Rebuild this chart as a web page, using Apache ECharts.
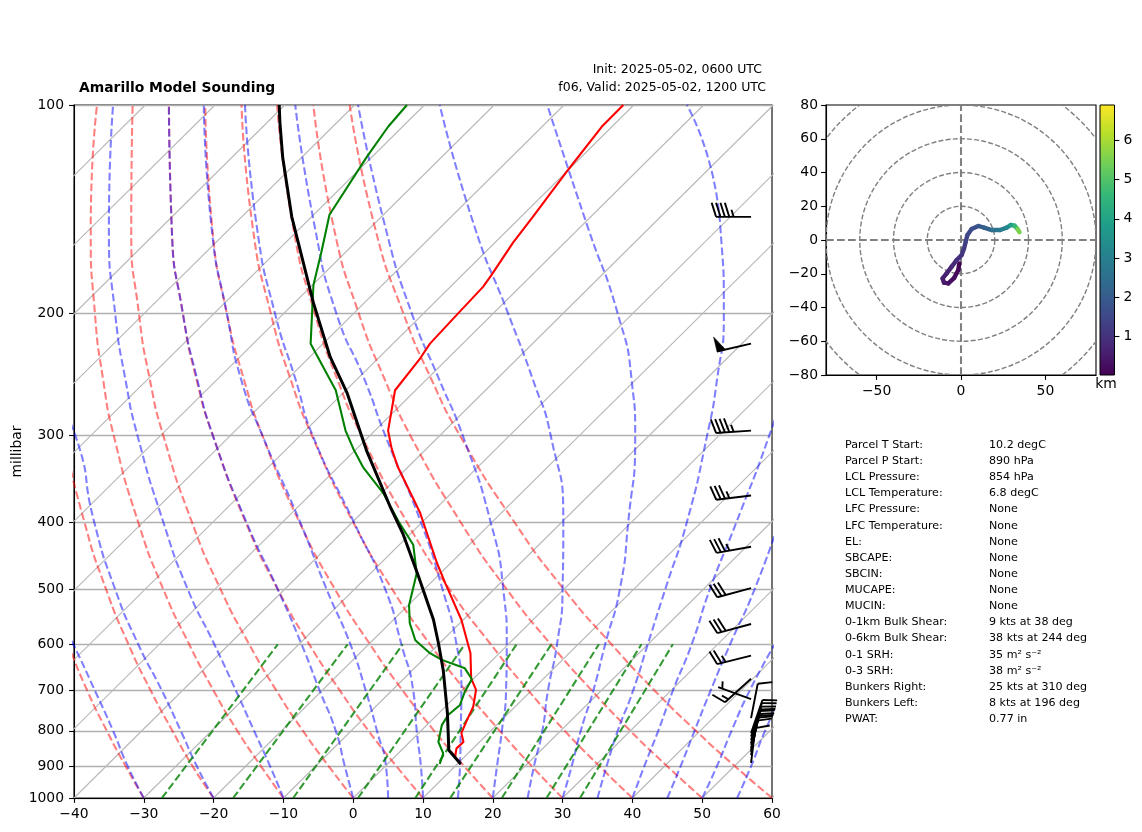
<!DOCTYPE html>
<html>
<head>
<meta charset="utf-8">
<title>Amarillo Model Sounding</title>
<script src="https://cdn.jsdelivr.net/npm/echarts@6/dist/echarts.min.js"></script>
<style>
  html, body { margin: 0; padding: 0; background: #fff; }
  #main { width: 1142px; height: 832px; }
</style>
</head>
<body>
<div id="main"></div>
<script>
var FONT = '"DejaVu Sans", sans-serif';

// all profile values (skewed) at a given pressure
var pressureTicks = [100, 200, 300, 400, 500, 600, 700, 800, 900, 1000];

var tempP = [100, 107.5, 124, 145.6, 158, 176, 183, 201, 221, 232, 258, 295, 313, 333, 388, 458, 490, 553, 618, 672, 698, 738, 772, 806, 830, 848, 872, 893];
var tempX = [38.7, 35.6, 30.8, 25.6, 22.9, 19.8, 18.6, 14.8, 11, 9.6, 6, 5, 5.5, 6.4, 9.6, 12, 13.2, 15.5, 16.8, 16.9, 17.6, 17.2, 16.3, 15.5, 15.8, 14.8, 14.6, 15.4];

var dewP = [100, 107.5, 119, 144, 162, 182, 221, 258, 295, 313, 333, 363, 399, 431, 474, 527, 559, 592, 618, 632, 650, 674, 702, 734, 759, 785, 830, 862, 893];
var dewX = [7.7, 5, 1.9, -3.4, -4.5, -5.7, -6.1, -2.5, -1.1, 0, 1.4, 4.3, 6.5, 8.6, 9.1, 8, 8.1, 8.9, 11, 12.7, 16, 17, 16, 15.3, 13.6, 12.7, 12.2, 12.9, 12.4];

var parcelP = [893, 853, 755, 654, 597, 553, 477, 415, 380, 315, 260, 231, 193, 162, 145, 119, 106, 100];
var parcelX = [15.4, 13.7, 13.5, 12.9, 12.2, 11.5, 9.3, 7.1, 5.3, 1.9, -0.9, -3.3, -5.7, -7.6, -8.8, -10.1, -10.5, -10.6];

// background lines
var isotherms = [-130, -120, -110, -100, -90, -80, -70, -60, -50, -40, -30, -20, -10, 0, 10, 20, 30, 40, 50, 60];
var skewPerDecade = 100.2;

var adiabatLevels = [1000, 900, 800, 700, 600, 500, 400, 300, 250, 200, 150, 100];
var dryAdiabats = [
  [-30, -32.6, -35.3, -38.1, -40.8, -43.6],
  [-20, -23, -25.9, -29, -32.2, -35.4, -38.5, -41.4, -42.5, -43.3, -43.4, -41.9],
  [-10, -13.2, -16.6, -20, -23.5, -27.2, -30.8, -34.3, -35.8, -37, -37.6, -36.7],
  [0, -3.5, -7.2, -11, -14.9, -19, -23.1, -27.2, -29.1, -30.7, -31.8, -31.6],
  [10, 6.2, 2.2, -1.9, -6.3, -10.8, -15.4, -20.1, -22.4, -24.4, -26, -26.4],
  [20, 15.9, 11.6, 7.1, 2.4, -2.6, -7.7, -13, -15.6, -18.1, -20.2, -21.2],
  [30, 25.6, 21, 16.1, 11, 5.6, 0, -5.9, -8.9, -11.8, -14.4, -16],
  [40, 35.3, 30.3, 25.1, 19.7, 13.8, 7.7, 1.2, -2.2, -5.5, -8.6, -10.9],
  [50, 45, 39.7, 34.2, 28.3, 22, 15.4, 8.2, 4.6, 0.8, -2.8, -5.7],
  [60, 54.7, 49.1, 43.2, 37, 30.2, 23.1, 15.3, 11.3, 7.2, 3.1, -0.5]
];
var moistAdiabats = [
  [-30, -32.3, -34.4, -37, -40.1, -44],
  [-20, -22.4, -24.7, -27.4, -30.8, -34.1, -37.1, -39.8, -44],
  [-10, -11.9, -14.2, -16.8, -19.9, -23.7, -27.2, -30.9, -32.6, -34.1, -35, -34.4],
  [0, -1.2, -2.5, -4.8, -7.4, -10.8, -15.3, -20.1, -22.3, -24.4, -26, -26.4],
  [5, 4.7, 3.4, 1.8, -0.4, -3.8, -7.6, -13, -16, -18.1, -20.3, -21.4],
  [10, 9.7, 9.1, 8.6, 6.9, 4.6, 0.1, -5.8, -8.2, -11.2, -13.8, -15.5],
  [15, 15.3, 15.4, 15.5, 14.8, 12.8, 9.7, 4.6, 1.7, -2.4, -5.5, -8.3],
  [20, 20.6, 21.3, 21.9, 22, 21.5, 19.7, 15.7, 12.4, 8.4, 4.6, 0.7],
  [25, 25.9, 27.1, 27.9, 29.2, 30, 30.1, 28.3, 25.8, 22.2, 17.4, 12.4],
  [30, 31.3, 32.6, 34.4, 36.1, 38.2, 39.4, 40.4, 39.9, 37.9, 33.6, 27.8],
  [35, 36.3, 37.9, 40.1, 42.2, 44.7, 47.8, 50.7, 52.1, 53.1, 52.6, 47.8],
  [40, 41.7, 43.7, 45.8, 48.5, 51.1, 54.9, 59.6, 62, 64],
  [45, 46.9, 48.9, 51.2, 54, 57.5, 61],
  [50, 52.1, 54.2, 56.8, 60.4],
  [55, 57, 59, 61.7]
];
var mixBottomX = [-27.4, -17.2, -8.6, 0.7, 8.9, 13.9, 21.3, 27.7, 32.5];
var mixTopX = [-10.8, -0.8, 7.1, 16, 23.4, 28.4, 35.2, 41.3, 45.8];

// wind barbs: pressure, speed in kts, direction the wind comes from
var barbX = 57;
var barbP = [145, 221, 295, 366, 434, 498, 561, 623, 673, 720, 767, 806, 815, 825, 833, 838, 847, 853, 858, 867, 890];
var barbSpeed = [45, 50, 45, 35, 35, 30, 30, 25, 15, 5, 10, 10, 10, 10, 10, 10, 10, 10, 10, 10, 10];
var barbDir = [270, 257, 266, 263, 260, 255, 255, 256, 228, 290, 11, 19, 18, 17, 16, 15, 14, 13, 12, 10, 7];

// hodograph
var hodoU = [-1, -1.6, -4, -7.5, -10.1, -10.9, -8.5, -5.5, -2.6, 0.4, 1.8, 2.8, 3.8, 6.3, 10.3, 13.7, 18.2, 23.2, 27.1, 29.5, 31.7, 33.5, 34.7];
var hodoV = [-13.9, -17.8, -22.4, -25.7, -25.3, -22.8, -19.8, -15.8, -11.9, -8.9, -5, -1, 3, 6.5, 8.3, 7.3, 5.9, 5.9, 7.3, 8.9, 8.5, 6.5, 4.6];
var hodoH = [0.03, 0.15, 0.3, 0.4, 0.5, 0.6, 0.7, 0.8, 0.95, 1.1, 1.25, 1.4, 1.55, 1.7, 1.9, 2.2, 2.6, 2.9, 3.3, 3.9, 4.6, 5.5, 6.9];
var hodoRings = [20, 40, 60, 80, 100];
var hodoMinH = 0.02;
var hodoMaxH = 6.9;
var viridis = ['#440154', '#482878', '#3e4989', '#31688e', '#26828e', '#1f9e89', '#35b779', '#6ece58', '#b5de2b', '#fde725'];

// stats text
var statLabels = ['Parcel T Start:', 'Parcel P Start:', 'LCL Pressure:', 'LCL Temperature:', 'LFC Pressure:', 'LFC Temperature:', 'EL:', 'SBCAPE:', 'SBCIN:', 'MUCAPE:', 'MUCIN:', '0-1km Bulk Shear:', '0-6km Bulk Shear:', '0-1 SRH:', '0-3 SRH:', 'Bunkers Right:', 'Bunkers Left:', 'PWAT:'];
var statValues = ['10.2 degC', '890 hPa', '854 hPa', '6.8 degC', 'None', 'None', 'None', 'None', 'None', 'None', 'None', '9 kts at 38 deg', '38 kts at 244 deg', '35 m\u00b2 s\u207b\u00b2', '38 m\u00b2 s\u207b\u00b2', '25 kts at 310 deg', '8 kts at 196 deg', '0.77 in'];

function pairs(xs, ps) {
  return xs.map(function (x, i) { return [x, ps[i]]; });
}

function minus(v) {
  return String(v).replace('-', '\u2212');
}

function curve(data, color, width, dash, z, smooth) {
  return {
    type: 'line',
    xAxisIndex: 0,
    yAxisIndex: 0,
    data: data,
    showSymbol: false,
    symbol: 'none',
    silent: true,
    smooth: smooth || false,
    z: z,
    lineStyle: { color: color, width: width, type: dash || 'solid', cap: 'butt' }
  };
}

var series = [];

isotherms.forEach(function (t) {
  series.push(curve([[t, 1000], [t + skewPerDecade, 100]], '#b8b8b8', 1.1, null, 2));
});
dryAdiabats.forEach(function (row) {
  series.push(curve(pairs(row, adiabatLevels), 'rgba(255,0,0,0.5)', 2.08, [7.7, 3.3], 3, 0.6));
});
moistAdiabats.forEach(function (row) {
  series.push(curve(pairs(row, adiabatLevels), 'rgba(0,0,255,0.5)', 2.08, [7.7, 3.3], 3, 0.6));
});
mixBottomX.forEach(function (x, i) {
  series.push(curve([[x, 1000], [mixTopX[i], 600]], 'rgba(0,128,0,0.8)', 2.08, [7.7, 3.3], 3));
});
series.push(curve(pairs(tempX, tempP), '#ff0000', 2.08, null, 5));
series.push(curve(pairs(dewX, dewP), '#008000', 2.08, null, 5));
series.push(curve(pairs(parcelX, parcelP), '#000000', 3, null, 6));

// barbs
function renderBarb(params, api) {
  var base = api.coord([api.value(0), api.value(1)]);
  var speed = api.value(2);
  var dir = api.value(3) * Math.PI / 180;
  var len = 35;
  var ux = Math.sin(dir);
  var uy = -Math.cos(dir);
  var px = -uy;
  var py = ux;
  var tail = [base[0] + ux * len, base[1] + uy * len];
  var kids = [];
  var stroke = { stroke: '#000', lineWidth: 1.9, fill: null };
  kids.push({ type: 'polyline', shape: { points: [base, tail] }, style: stroke });

  function along(d, h, lean) {
    return [tail[0] - ux * d + px * h + ux * lean, tail[1] - uy * d + py * h + uy * lean];
  }
  var flags = Math.floor(speed / 50);
  var rest = speed - flags * 50;
  var fulls = Math.floor(rest / 10);
  var half = rest - fulls * 10 >= 5;
  var d = 0;
  var i;
  for (i = 0; i < flags; i++) {
    kids.push({
      type: 'polygon',
      shape: { points: [along(d, 0, 0), along(d, 15, 0), along(d + 8.75, 0, 0)] },
      style: { fill: '#000', stroke: '#000', lineWidth: 0.5 }
    });
    d += 8.75 + 4.4;
  }
  for (i = 0; i < fulls; i++) {
    kids.push({ type: 'polyline', shape: { points: [along(d, 0, 0), along(d, 14, 4.4)] }, style: stroke });
    d += 4.4;
  }
  if (half) {
    if (flags === 0 && fulls === 0) {
      d += 4.4;
    }
    kids.push({ type: 'polyline', shape: { points: [along(d, 0, 0), along(d, 7, 2.2)] }, style: stroke });
  }
  return { type: 'group', children: kids };
}

series.push({
  type: 'custom',
  xAxisIndex: 0,
  yAxisIndex: 0,
  silent: true,
  z: 7,
  clip: false,
  renderItem: renderBarb,
  encode: { x: 0, y: 1 },
  data: barbP.map(function (p, i) { return [barbX, p, barbSpeed[i], barbDir[i]]; })
});

// hodograph rings
series.push({
  type: 'custom',
  xAxisIndex: 1,
  yAxisIndex: 1,
  silent: true,
  clip: true,
  z: 2,
  encode: { x: 0, y: 1 },
  renderItem: function (params, api) {
    var c = api.coord([0, 0]);
    var r = api.size([api.value(0), 0])[0];
    return {
      type: 'circle',
      shape: { cx: c[0], cy: c[1], r: r },
      style: { fill: null, stroke: '#808080', lineWidth: 1.4, lineDash: [5, 2.2] }
    };
  },
  data: hodoRings.map(function (r) { return [r, 0]; })
});
series.push({
  type: 'line', xAxisIndex: 1, yAxisIndex: 1, symbol: 'none', silent: true, z: 3,
  data: [[-80, 0], [80, 0]],
  lineStyle: { color: '#808080', width: 2.08, type: [7.7, 3.3] }
});
series.push({
  type: 'line', xAxisIndex: 1, yAxisIndex: 1, symbol: 'none', silent: true, z: 3,
  data: [[0, -80], [0, 80]],
  lineStyle: { color: '#808080', width: 2.08, type: [7.7, 3.3] }
});

var hodoSeriesIndex = series.length;
series.push({
  type: 'custom',
  xAxisIndex: 1,
  yAxisIndex: 1,
  silent: true,
  z: 5,
  encode: { x: 0, y: 1 },
  renderItem: function (params, api) {
    var i = params.dataIndex;
    var next = Math.min(i + 1, hodoU.length - 1);
    return {
      type: 'polyline',
      shape: { points: [api.coord([hodoU[i], hodoV[i]]), api.coord([hodoU[next], hodoV[next]])] },
      style: { fill: null, stroke: api.visual('color'), lineWidth: 4.4, lineCap: 'round' }
    };
  },
  data: hodoU.map(function (u, i) { return [u, hodoV[i], hodoH[i]]; })
});

// colorbar
series.push({
  type: 'custom',
  xAxisIndex: 2,
  yAxisIndex: 2,
  silent: true,
  encode: { x: 0, y: [1, 2] },
  renderItem: function (params, api) {
    var a = api.coord([0, hodoMaxH]);
    var b = api.coord([1, hodoMinH]);
    return {
      type: 'rect',
      shape: { x: a[0], y: a[1], width: b[0] - a[0], height: b[1] - a[1] },
      style: {
        stroke: '#000',
        lineWidth: 1,
        fill: new echarts.graphic.LinearGradient(0, 1, 0, 0, viridis.map(function (c, i) {
          return { offset: i / (viridis.length - 1), color: c };
        }))
      }
    };
  },
  data: [[0, hodoMinH, hodoMaxH]]
});

var tickLine = { show: true, length: 4.9, inside: false, lineStyle: { color: '#000', width: 1.1 } };
var axisText = { color: '#000', fontFamily: FONT, fontSize: 13.9 };
var spine = { show: true, onZero: false, lineStyle: { color: '#000', width: 1.1 } };

var graphics = [
  { type: 'text', x: 79, y: 88, style: { text: 'Amarillo Model Sounding', font: 'bold 13.9px ' + FONT, fill: '#000', verticalAlign: 'middle' } },
  { type: 'text', x: 762, y: 70, style: { text: 'Init: 2025-05-02, 0600 UTC', font: '12.5px ' + FONT, fill: '#000', align: 'right', verticalAlign: 'middle' } },
  { type: 'text', x: 766, y: 88, style: { text: 'f06, Valid: 2025-05-02, 1200 UTC', font: '12.5px ' + FONT, fill: '#000', align: 'right', verticalAlign: 'middle' } },
  { type: 'text', x: 1106, y: 384, style: { text: 'km', font: '13.9px ' + FONT, fill: '#000', align: 'center', verticalAlign: 'middle' } }
];
statLabels.forEach(function (label, i) {
  var y = 445 + i * 16.13;
  graphics.push({ type: 'text', x: 845, y: y, style: { text: label, font: '11.1px ' + FONT, fill: '#000', verticalAlign: 'middle' } });
  graphics.push({ type: 'text', x: 989, y: y, style: { text: statValues[i], font: '11.1px ' + FONT, fill: '#000', verticalAlign: 'middle' } });
});

var option = {
  animation: false,
  backgroundColor: '#fff',
  textStyle: { fontFamily: FONT },
  grid: [
    { left: 74, top: 105, width: 698, height: 693, show: true, borderColor: '#000', borderWidth: 1.1, backgroundColor: '#fff', outerBoundsMode: 'none' },
    { left: 826, top: 105, width: 270, height: 270, show: true, borderColor: '#000', borderWidth: 1.1, backgroundColor: '#fff', outerBoundsMode: 'none' },
    { left: 1100, top: 105, width: 14.5, height: 270, outerBoundsMode: 'none' }
  ],
  xAxis: [
    {
      type: 'value', gridIndex: 0, min: -40, max: 60, interval: 10,
      axisLine: spine,
      axisTick: tickLine,
      splitLine: { show: false },
      axisLabel: Object.assign({ margin: 9, formatter: minus, showMinLabel: true, showMaxLabel: true }, axisText)
    },
    {
      type: 'value', gridIndex: 1, min: -80, max: 80,
      axisLine: spine,
      axisTick: Object.assign({ customValues: [-50, 0, 50] }, tickLine),
      splitLine: { show: false },
      axisLabel: Object.assign({ margin: 9, customValues: [-50, 0, 50], formatter: minus }, axisText)
    },
    { type: 'value', gridIndex: 2, min: 0, max: 1, show: false }
  ],
  yAxis: [
    {
      type: 'log', gridIndex: 0, logBase: 10, min: 100, max: 1000, inverse: true,
      name: 'millibar', nameLocation: 'middle', nameGap: 50, nameRotate: 90, nameMoveOverlap: false,
      nameTextStyle: axisText,
      axisLine: spine,
      axisTick: Object.assign({ customValues: pressureTicks }, tickLine),
      minorTick: { show: false },
      splitLine: { show: true, lineStyle: { color: '#b0b0b0', width: 1.4 } },
      axisLabel: Object.assign({ margin: 10, padding: [3, 0, 0, 0], customValues: pressureTicks, formatter: function (v) { return Math.round(v); } }, axisText)
    },
    {
      type: 'value', gridIndex: 1, min: -80, max: 80, interval: 20,
      axisLine: spine,
      axisTick: tickLine,
      splitLine: { show: false },
      axisLabel: Object.assign({ margin: 8, padding: [4, 0, 0, 0], formatter: minus }, axisText)
    },
    {
      type: 'value', gridIndex: 2, min: hodoMinH, max: hodoMaxH, position: 'right',
      axisLine: { show: false, onZero: false },
      axisTick: Object.assign({ customValues: [1, 2, 3, 4, 5, 6] }, tickLine),
      splitLine: { show: false },
      axisLabel: Object.assign({ margin: 9, padding: [5, 0, 0, 0], customValues: [1, 2, 3, 4, 5, 6] }, axisText)
    }
  ],
  visualMap: [{
    show: false,
    type: 'continuous',
    seriesIndex: hodoSeriesIndex,
    dimension: 2,
    min: hodoMinH,
    max: hodoMaxH,
    inRange: { color: viridis }
  }],
  series: series,
  graphic: { elements: graphics }
};

var myChart = echarts.init(document.getElementById('main'), null, { width: 1142, height: 832 });
myChart.setOption(option);
</script>
</body>
</html>
